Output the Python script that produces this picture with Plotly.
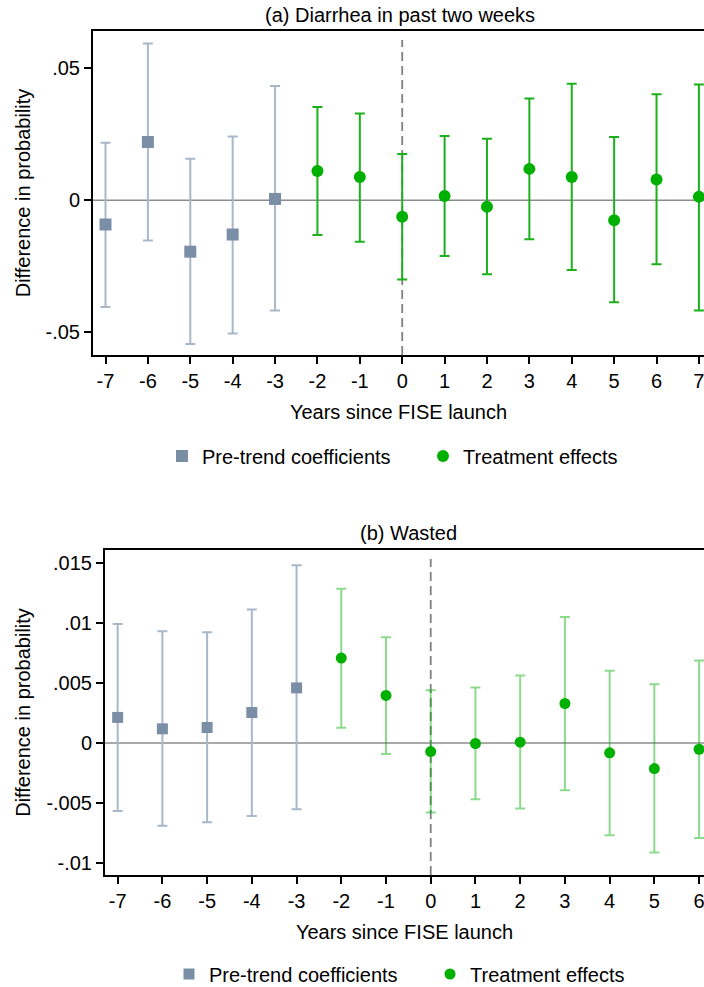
import plotly.graph_objects as go

# ---------------- Data ----------------
pre_years = [-7, -6, -5, -4, -3]
post_years = [-2, -1, 0, 1, 2, 3, 4, 5, 6, 7]
post_years_b = [-2, -1, 0, 1, 2, 3, 4, 5, 6]

# (a) Diarrhea in past two weeks
a_pre_coef = [-0.0092, 0.0221, -0.0195, -0.0130, 0.0005]
a_pre_hi = [0.0218, 0.0595, 0.0157, 0.0242, 0.0433]
a_pre_lo = [-0.0405, -0.0153, -0.0545, -0.0505, -0.0418]
a_post_coef = [0.0111, 0.0088, -0.0063, 0.0016, -0.0025, 0.0119, 0.0088, -0.0076, 0.0079, 0.0013]
a_post_hi = [0.0354, 0.0329, 0.0175, 0.0244, 0.0233, 0.0386, 0.0442, 0.0240, 0.0402, 0.0439]
a_post_lo = [-0.0132, -0.0157, -0.0301, -0.0211, -0.0281, -0.0148, -0.0265, -0.0387, -0.0243, -0.0418]

# (b) Wasted
b_pre_coef = [0.00212, 0.00117, 0.00128, 0.00253, 0.00458]
b_pre_hi = [0.0099, 0.0093, 0.00922, 0.0111, 0.0148]
b_pre_lo = [-0.00567, -0.0069, -0.00661, -0.00608, -0.00553]
b_post_coef = [0.00706, 0.00395, -0.00072, -0.00005, 0.00006, 0.00328, -0.00083, -0.00214, -0.00053]
b_post_hi = [0.01283, 0.0088, 0.00439, 0.00462, 0.00562, 0.01048, 0.0060, 0.00489, 0.00687]
b_post_lo = [0.00125, -0.00092, -0.0058, -0.00469, -0.00547, -0.00394, -0.00769, -0.00913, -0.00792]

x_ticks = [-7, -6, -5, -4, -3, -2, -1, 0, 1, 2, 3, 4, 5, 6, 7]
x_ticktext = ["-7", "-6", "-5", "-4", "-3", "-2", "-1", "0", "1", "2", "3", "4", "5", "6", "7"]
a_yticks = [-0.05, 0, 0.05]
a_yticktext = ["-.05", "0", ".05"]
b_yticks = [-0.01, -0.005, 0, 0.005, 0.01, 0.015]
b_yticktext = ["-.01", "-.005", "0", ".005", ".01", ".015"]

title_a = "(a) Diarrhea in past two weeks"
title_b = "(b) Wasted"
xlab = "Years since FISE launch"
ylab = "Difference in probability"
leg_pre = "Pre-trend coefficients"
leg_post = "Treatment effects"

# ---------------- Styles ----------------
FONT = "Liberation Sans, Arial, sans-serif"
PRE_MK = "#7A8EA6"
PRE_CI = "#A8B8C8"
GREEN = "#00B000"
GREEN_CI_A = "#1DB01D"
GREEN_CI_B = "rgba(0,176,0,0.45)"

W, H = 704, 987


def errs(coef, hi, lo):
    return [h - c for h, c in zip(hi, coef)], [c - l for c, l in zip(coef, lo)]


fig = go.Figure()


def add_panel(xa, ya, legend, pre_c, pre_h, pre_l, post_x, post_c, post_h, post_l, post_ci_col, msize_sq, msize_c):
    up, dn = errs(pre_c, pre_h, pre_l)
    fig.add_trace(go.Scatter(
        x=pre_years, y=pre_c, mode="markers", name=leg_pre, xaxis=xa, yaxis=ya, legend=legend,
        marker=dict(symbol="square", size=msize_sq, color=PRE_MK),
        error_y=dict(type="data", symmetric=False, array=up, arrayminus=dn,
                     color=PRE_CI, thickness=2, width=5),
    ))
    up, dn = errs(post_c, post_h, post_l)
    fig.add_trace(go.Scatter(
        x=post_x, y=post_c, mode="markers", name=leg_post, xaxis=xa, yaxis=ya, legend=legend,
        marker=dict(symbol="circle", size=msize_c, color=GREEN),
        error_y=dict(type="data", symmetric=False, array=up, arrayminus=dn,
                     color=post_ci_col, thickness=2, width=5),
    ))


add_panel("x", "y", "legend", a_pre_coef, a_pre_hi, a_pre_lo, post_years,
          a_post_coef, a_post_hi, a_post_lo, GREEN_CI_A, 12, 12)
add_panel("x2", "y2", "legend2", b_pre_coef, b_pre_hi, b_pre_lo, post_years_b,
          b_post_coef, b_post_hi, b_post_lo, GREEN_CI_B, 11, 11)


def px_x(p):
    return p / W


def px_y(p):
    return 1 - p / H


axis_common = dict(
    showline=True, linecolor="black", linewidth=2,
    ticks="outside", ticklen=7, tickwidth=1.5, tickcolor="black",
    showgrid=False, zeroline=False,
    tickfont=dict(family=FONT, size=20, color="black"),
    title_font=dict(family=FONT, size=20, color="black"),
)

fig.update_layout(
    width=W, height=H,
    margin=dict(l=0, r=0, t=0, b=0, autoexpand=False),
    paper_bgcolor="white", plot_bgcolor="white",
    font=dict(family=FONT, size=20, color="black"),
    xaxis=dict(domain=[px_x(93), 1], anchor="y", range=[-7.295, 7.12],
               tickvals=x_ticks, ticktext=x_ticktext, mirror=True, ticklabeloverflow="allow",
               title=dict(text=xlab, standoff=14), **axis_common),
    yaxis=dict(domain=[px_y(355), px_y(31)], anchor="x", range=[-0.0587, 0.0642],
               tickvals=a_yticks, ticktext=a_yticktext,
               title=dict(text=ylab, standoff=10), **axis_common),
    xaxis2=dict(domain=[px_x(105), 1], anchor="y2", range=[-7.283, 6.11],
                tickvals=x_ticks, ticktext=x_ticktext, mirror=True, ticklabeloverflow="allow",
                title=dict(text=xlab, standoff=14), **axis_common),
    yaxis2=dict(domain=[px_y(875), px_y(550)], anchor="x2", range=[-0.0110, 0.01606],
                tickvals=b_yticks, ticktext=b_yticktext,
                title=dict(text=ylab, standoff=10), **axis_common),
    legend=dict(orientation="h", x=px_x(162), xanchor="left", y=px_y(456), yanchor="middle",
                font=dict(family=FONT, size=20, color="black"), entrywidth=216,
                bgcolor="rgba(0,0,0,0)"),
    legend2=dict(orientation="h", x=px_x(169), xanchor="left", y=px_y(974), yanchor="middle",
                 font=dict(family=FONT, size=20, color="black"), entrywidth=216,
                 bgcolor="rgba(0,0,0,0)"),
    showlegend=True,
)

# reference lines
for xr, yr in [("x", "y"), ("x2", "y2")]:
    fig.add_shape(type="line", xref=f"{xr} domain", yref=yr, x0=0, x1=1, y0=0, y1=0,
                  line=dict(color="#8C8C8C", width=1.5), layer="below")
    fig.add_shape(type="line", xref=xr, yref=f"{yr} domain", x0=0, x1=0, y0=0, y1=0.972,
                  line=dict(color="#808080", width=1.8, dash="9px,5px"), layer="below")

# panel titles
fig.add_annotation(text=title_a, xref="paper", yref="paper", x=px_x(400), y=px_y(15),
                   showarrow=False, xanchor="center", yanchor="middle",
                   font=dict(family=FONT, size=20, color="black"))
fig.add_annotation(text=title_b, xref="paper", yref="paper", x=px_x(408), y=px_y(533),
                   showarrow=False, xanchor="center", yanchor="middle",
                   font=dict(family=FONT, size=20, color="black"))

fig.write_html("out.html",
               config={"displayModeBar": False},
               post_script="document.body.style.margin='0px';document.body.style.overflow='hidden';")
